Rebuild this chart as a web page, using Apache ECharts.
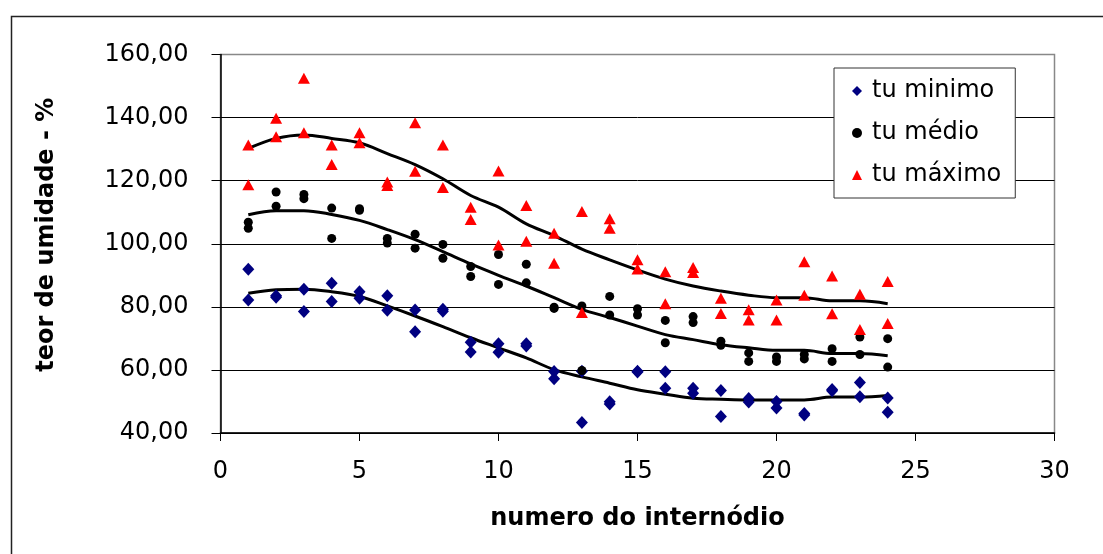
<!DOCTYPE html>
<html>
<head>
<meta charset="utf-8">
<script src="https://cdn.jsdelivr.net/npm/echarts@6/dist/echarts.min.js"></script>
<style>
html,body{margin:0;padding:0;background:#fff;}
#chart{width:1103px;height:554px;}
</style>
</head>
<body>
<div id="chart"></div>
<script>
// internode numbers
const internodes = [1,2,3,4,5,6,7,8,9,10,11,12,13,14,15,16,17,18,19,20,21,22,23,24];
// tu minimo (two readings per internode)
const minA = [91.9,83.5,85.6,87.5,84.8,83.5,79.0,79.2,68.8,68.3,68.3,59.5,59.6,49.9,59.6,59.4,54.2,53.5,50.9,50.0,46.2,53.8,56.0,51.1];
const minB = [82.2,83.0,78.5,81.7,82.7,78.9,72.1,78.6,65.7,65.6,67.6,57.2,43.3,49.2,59.3,54.2,52.6,45.2,49.8,47.9,45.7,53.4,51.5,46.6];
// tu médio
const medA = [106.8,116.4,115.6,111.3,111.1,101.7,103.0,99.8,92.8,96.6,93.5,79.9,80.3,83.3,79.4,75.7,76.9,69.1,65.4,64.1,64.9,66.7,70.4,69.9];
const medB = [104.9,111.9,114.3,101.7,110.6,100.2,98.6,95.4,89.6,87.1,87.6,79.5,59.8,77.4,77.4,68.6,75.0,67.8,62.7,62.7,63.5,62.7,64.9,60.9];
// tu máximo
const maxA = [131.3,139.8,152.5,131.3,135.2,119.6,138.4,131.3,111.6,123.1,112.1,103.3,110.2,107.9,94.9,91.1,92.5,82.7,79.1,82.2,94.3,89.8,84.0,88.0];
const maxB = [118.7,133.9,135.2,125.1,132.0,118.5,123.0,117.8,107.7,99.6,100.8,93.8,78.2,104.9,92.0,81.0,90.9,77.9,75.8,75.8,83.7,77.8,72.8,74.7];
// trend lines
const minTrend = [84.3,85.4,85.6,84.8,83.3,80.3,77.1,73.7,70.2,67.0,63.8,60.1,57.8,55.8,53.7,52.3,51.0,50.7,50.5,50.5,50.5,51.4,51.4,51.9];
const medTrend = [109.2,110.5,110.5,109.3,107.4,104.5,101.3,97.5,93.6,90.0,86.6,82.9,79.2,76.6,73.9,71.2,69.6,68.0,67.0,66.2,66.2,65.2,65.2,64.5];
const maxTrend = [130.2,133.4,134.5,133.4,132.0,128.6,125.1,120.6,115.3,111.6,106.3,102.6,98.3,94.9,91.7,88.8,86.6,85.0,83.7,82.9,82.9,81.9,81.9,81.0];

const seriesNames = ['tu minimo','tu médio','tu máximo'];
const xTicks = {min:0, max:30, interval:5};
const yTicks = {min:40, max:160, interval:20};

function pairs(a, b) {
  const out = [];
  internodes.forEach((x, i) => { out.push([x, a[i]]); out.push([x, b[i]]); });
  return out;
}
function line(t) { return internodes.map((x, i) => [x, t[i]]); }

const FONT = 'DejaVu Sans';
const chart = echarts.init(document.getElementById('chart'), null, {renderer:'canvas'});

const trendStyle = {
  type:'line', symbol:'none', smooth:0.35, silent:true,
  lineStyle:{color:'#000', width:3}, z:3
};

chart.setOption({
  animation:false,
  backgroundColor:'#fff',
  graphic:[{
    type:'rect', left:9, top:14, silent:true,
    shape:{x:0, y:0, width:1200, height:700},
    style:{fill:'none', stroke:'#222', lineWidth:1.5}
  }],
  grid:{left:220.5, top:54.5, right:48.5, bottom:121, show:true, borderColor:'#888', borderWidth:1.5, backgroundColor:'transparent'},
  legend:{
    orient:'vertical', left:834, top:68,
    width:184,
    data:seriesNames,
    backgroundColor:'#fff', borderColor:'#333', borderWidth:1,
    padding:[11,14,11,18],
    itemWidth:10, itemHeight:10, itemGap:18,
    textStyle:{fontFamily:FONT, fontSize:24, color:'#000', padding:[0,0,0,5]}
  },
  xAxis:{
    type:'value', min:xTicks.min, max:xTicks.max, interval:xTicks.interval,
    name:'numero do internódio', nameLocation:'middle', nameGap:74,
    nameTextStyle:{fontFamily:FONT, fontSize:24, fontWeight:'bold', color:'#000'},
    axisLine:{show:true, onZero:false, lineStyle:{color:'#000', width:1.5}},
    axisTick:{show:true, inside:false, length:8, lineStyle:{color:'#000', width:1}},
    axisLabel:{fontFamily:FONT, fontSize:24, color:'#000', margin:27},
    splitLine:{show:false}
  },
  yAxis:{
    type:'value', min:yTicks.min, max:yTicks.max, interval:yTicks.interval,
    name:'teor de umidade - %', nameLocation:'middle', nameGap:162,
    nameTextStyle:{fontFamily:FONT, fontSize:24, fontWeight:'bold', color:'#000', padding:[0,0,0,18]},
    axisLine:{show:true, onZero:false, lineStyle:{color:'#000', width:1.5}},
    axisTick:{show:true, inside:false, length:9, lineStyle:{color:'#000', width:1}},
    axisLabel:{fontFamily:FONT, fontSize:24, color:'#000', margin:32,
      formatter:v => v.toFixed(2).replace('.', ',')},
    splitLine:{show:true, lineStyle:{color:['#000','#000','#000','#000','#000','#000','#888'], width:1}}
  },
  series:[
    {name:seriesNames[0], type:'scatter', data:pairs(minA, minB), symbol:'diamond', symbolSize:[12,13],
      itemStyle:{color:'#000080', opacity:1}, z:4},
    {name:seriesNames[1], type:'scatter', data:pairs(medA, medB), symbol:'circle', symbolSize:9,
      itemStyle:{color:'#000', opacity:1}, z:4},
    {name:seriesNames[2], type:'scatter', data:pairs(maxA, maxB), symbol:'triangle', symbolSize:[12,11],
      itemStyle:{color:'#ff0000', opacity:1}, z:4},
    Object.assign({name:'trend min', data:line(minTrend)}, trendStyle),
    Object.assign({name:'trend med', data:line(medTrend)}, trendStyle),
    Object.assign({name:'trend max', data:line(maxTrend)}, trendStyle)
  ]
});
</script>
</body>
</html>
